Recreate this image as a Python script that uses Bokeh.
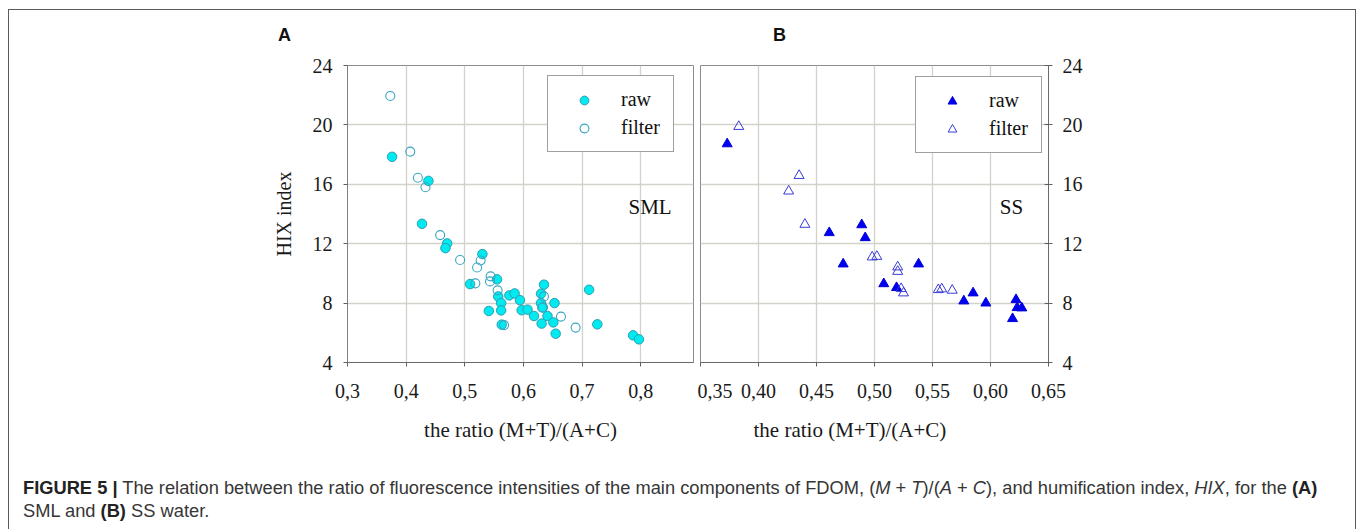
from bokeh.plotting import figure
from bokeh.models import FixedTicker, Label, Legend, LegendItem, Div, Range1d, Title
from bokeh.layouts import row, column
from bokeh.embed import file_html
from bokeh.resources import INLINE

# ---------------- data ----------------
A_raw_x = [0.376, 0.438, 0.427, 0.470, 0.467, 0.530, 0.555, 0.509, 0.557, 0.562, 0.562,
           0.541, 0.563, 0.576, 0.585, 0.594, 0.597, 0.607, 0.618, 0.635, 0.630, 0.630,
           0.633, 0.631, 0.641, 0.653, 0.651, 0.655, 0.712, 0.726, 0.787, 0.797]
A_raw_y = [17.85, 16.23, 13.34, 12.02, 11.70, 11.30, 9.60, 9.28, 8.45, 8.00, 7.51,
           7.47, 6.55, 8.52, 8.65, 8.20, 7.52, 7.56, 7.13, 9.24, 8.63, 8.00,
           7.71, 6.62, 7.13, 8.00, 6.70, 5.94, 8.90, 6.57, 5.83, 5.56]
A_filter_x = [0.373, 0.407, 0.420, 0.433, 0.458, 0.492, 0.527, 0.521, 0.544, 0.543,
              0.518, 0.556, 0.635, 0.632, 0.664, 0.689, 0.567]
A_filter_y = [21.95, 18.20, 16.44, 15.80, 12.58, 10.90, 10.87, 10.40, 9.80, 9.46,
              9.33, 8.86, 8.45, 7.69, 7.09, 6.35, 6.52]

B_raw_x = [0.373, 0.461, 0.489, 0.492, 0.473, 0.538, 0.508, 0.519, 0.577, 0.585,
           0.596, 0.622, 0.623, 0.627, 0.619]
B_raw_y = [18.72, 12.74, 13.27, 12.40, 10.63, 10.63, 9.30, 9.04, 8.14, 8.68,
           8.00, 8.23, 7.69, 7.67, 6.95]
B_filter_x = [0.383, 0.435, 0.426, 0.440, 0.498, 0.502, 0.520, 0.520, 0.523, 0.525,
              0.555, 0.558, 0.567]
B_filter_y = [19.89, 16.59, 15.54, 13.30, 11.10, 11.14, 10.43, 10.13, 8.97, 8.68,
              8.90, 8.95, 8.86]

A_xticks = [0.3, 0.4, 0.5, 0.6, 0.7, 0.8]
A_xlabels = ["0,3", "0,4", "0,5", "0,6", "0,7", "0,8"]
B_xticks = [0.35, 0.40, 0.45, 0.50, 0.55, 0.60, 0.65]
B_xlabels = ["0,35", "0,40", "0,45", "0,50", "0,55", "0,60", "0,65"]
y_ticks = [4, 8, 12, 16, 20, 24]

series_labels = ["raw", "filter"]
panel_names = ["SML", "SS"]
panel_letters = ["A", "B"]
x_title = "the ratio (M+T)/(A+C)"
y_title = "HIX index"

SERIF = "Liberation Serif"
GRID = "#d2d2ca"


def style(p):
    p.background_fill_color = "white"
    p.border_fill_color = "white"
    p.outline_line_color = "#8c8c8c"
    p.outline_line_width = 1
    p.xgrid.grid_line_color = GRID
    p.ygrid.grid_line_color = GRID
    p.xgrid.grid_line_width = 1.3
    p.ygrid.grid_line_width = 1.3
    for ax in p.axis:
        ax.major_label_text_font = SERIF
        ax.major_label_text_font_size = "20px"
        ax.major_label_text_color = "#1a1a1a"
        ax.axis_label_text_font = SERIF
        ax.axis_label_text_font_size = "20px"
        ax.axis_label_text_font_style = "normal"
        ax.axis_label_text_color = "#1a1a1a"
        ax.minor_tick_line_color = None
        ax.major_tick_line_color = "#606060"
        ax.axis_line_color = "#6a6a6a"
        ax.major_tick_in = 0
        ax.major_tick_out = 4


def make_legend(p, r1, r2, loc):
    lg = Legend(items=[LegendItem(label=series_labels[0], renderers=[r1]),
                       LegendItem(label=series_labels[1], renderers=[r2])],
                location=loc, orientation="vertical")
    lg.border_line_color = "#404040"
    lg.border_line_width = 1
    lg.background_fill_color = "white"
    lg.background_fill_alpha = 1
    lg.label_text_font = SERIF
    lg.label_text_font_size = "20px"
    lg.label_text_color = "#111111"
    lg.glyph_width = 48
    lg.glyph_height = 22
    lg.label_height = 22
    lg.label_width = 40
    lg.label_standoff = 13
    lg.padding = 12
    lg.spacing = 5
    lg.margin = 0
    p.add_layout(lg)


FIG_H = 410
BORDER_B = 103

# ---------------- panel A ----------------
pa = figure(width=688, height=FIG_H, x_range=Range1d(0.3, 0.89), y_range=Range1d(4, 24),
            output_backend="svg", toolbar_location=None,
            min_border_left=338, min_border_right=4, min_border_top=10,
            min_border_bottom=BORDER_B)
style(pa)
pa.xaxis.ticker = FixedTicker(ticks=A_xticks)
pa.xaxis.major_label_overrides = dict(zip(A_xticks, A_xlabels))
pa.yaxis.ticker = FixedTicker(ticks=y_ticks)
pa.xaxis.major_label_standoff = 17
pa.yaxis.major_label_standoff = 11
pa.xaxis.axis_label = x_title
pa.xaxis.axis_label_standoff = 17
pa.xaxis.axis_label_text_font_size = "21px"
pa.yaxis.axis_label = y_title
pa.yaxis.axis_label_standoff = 15
pa.yaxis.axis_line_color = "#808080"

ra = pa.scatter(A_raw_x, A_raw_y, marker="circle", size=9.5,
                fill_color="#00eaf0", line_color="#2c9fb4", line_width=1)
fa = pa.scatter(A_filter_x, A_filter_y, marker="circle", size=9,
                fill_color=None, line_color="#38a6c0", line_width=1.1)
make_legend(pa, ra, fa, (200, 210))
pa.add_layout(Label(x=0.816, y=14.46, text=panel_names[0], text_align="center",
                    text_baseline="middle", text_font=SERIF, text_font_size="21px",
                    text_color="#111111"))

# ---------------- panel B ----------------
pb = figure(width=658, height=FIG_H, x_range=Range1d(0.35, 0.65), y_range=Range1d(4, 24),
            output_backend="svg", toolbar_location=None, y_axis_location="right",
            min_border_left=3, min_border_right=307, min_border_top=10,
            min_border_bottom=BORDER_B)
style(pb)
pb.xaxis.ticker = FixedTicker(ticks=B_xticks)
pb.xaxis.major_label_overrides = dict(zip(B_xticks, B_xlabels))
pb.yaxis.ticker = FixedTicker(ticks=y_ticks)
pb.xaxis.major_label_standoff = 17
pb.yaxis.major_label_standoff = 10
pb.yaxis.major_tick_in = 4

rb = pb.scatter(B_raw_x, B_raw_y, marker="triangle", size=10,
                fill_color="#0000f0", line_color="#0000d8", line_width=1)
fb = pb.scatter(B_filter_x, B_filter_y, marker="triangle", size=10,
                fill_color=None, line_color="#3b3bd6", line_width=1)
make_legend(pb, rb, fb, (215, 209))
pb.add_layout(Label(x=0.618, y=14.5, text=panel_names[1], text_align="center",
                    text_baseline="middle", text_font=SERIF, text_font_size="21px",
                    text_color="#111111"))
pb.add_layout(Title(text=x_title, align="left", offset=53, standoff=31,
                    text_font=SERIF, text_font_size="21px", text_font_style="normal",
                    text_color="#1a1a1a"), "below")

# ---------------- top strip with panel letters ----------------
top_html = (
    "<div style=\"position:relative;width:1346px;height:45px;"
    "font-family:'Liberation Sans',Arial,sans-serif;font-weight:bold;font-size:18px;"
    "line-height:18px;color:#111\">"
    f"<span style='position:absolute;left:269px;top:16px'>{panel_letters[0]}</span>"
    f"<span style='position:absolute;left:764px;top:16px'>{panel_letters[1]}</span>"
    "</div>"
)
top = Div(text=top_html, width=1346, height=45, margin=0)

# ---------------- caption ----------------
cap_html = (
    "<div style=\"font-family:'Liberation Sans',Arial,sans-serif;font-size:18.3px;"
    "line-height:23px;color:#363636;padding:11px 0 0 14px;white-space:nowrap\">"
    "<b style='color:#222'>FIGURE 5 |</b> The relation between the ratio of fluorescence "
    "intensities of the main components of FDOM, (<i>M</i> + <i>T</i>)/(<i>A</i> + <i>C</i>), "
    "and humification index, <i>HIX</i>, for the <b style='color:#222'>(A)</b><br>"
    "SML and <b style='color:#222'>(B)</b> SS water.</div>"
)
cap = Div(text=cap_html, width=1346, height=64, margin=0)

root = column(top, row(pa, pb, spacing=0), cap, spacing=0, margin=(9, 0, 0, 8),
              styles={"border-top": "1px solid #5a5a5a", "border-left": "1px solid #5a5a5a",
                      "border-right": "1px solid #5a5a5a"})

open("out.html", "w").write(file_html(root, INLINE))
